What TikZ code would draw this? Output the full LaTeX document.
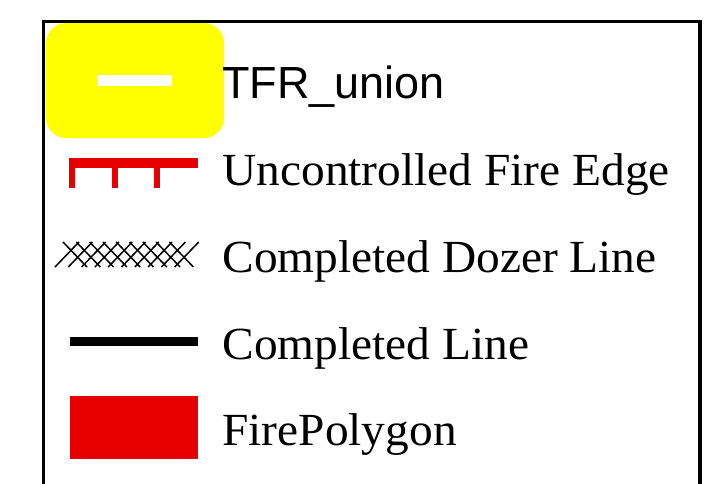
\documentclass[tikz,border=0pt]{standalone}
\usepackage{fontspec}
\setmainfont{Liberation Serif}
\newfontfamily\legendfont[FakeStretch=1.03]{Liberation Serif}
\newfontfamily\tfrfont{Liberation Sans}
\definecolor{firered}{HTML}{E60000}
\definecolor{tfryellow}{HTML}{FFFF00}
\tikzset{
    legendtext/.style={anchor=base west,inner sep=0pt,font=\legendfont\fontsize{23}{23}\selectfont},
    tfrtext/.style={anchor=base west,inner sep=0pt,font=\tfrfont\fontsize{22.5}{22.5}\selectfont}
}
\begin{document}
\begin{tikzpicture}[x=0.5pt,y=-0.5pt]
        \useasboundingbox (0,0) rectangle (724,483);
        \clip (0,0) rectangle (724,483);
        \draw[line width=1.75pt] (43.5,500) -- (43.5,21.5) -- (700,21.5) -- (700,500);
        % TFR_union
        \fill[tfryellow,rounded corners=10pt] (46,23) rectangle (224,138);
        \fill[white] (97,75) rectangle (172,86);
        \node[tfrtext] (tfr) at (222,98) {TFR\_union};
        % uncontrolled edge
        \fill[firered] (69,158) rectangle (198,168);
        \foreach \x in {69,112,154}
            \fill[firered] (\x,158) rectangle (\x+5.5,188);
        \node[legendtext] (edge) at (222,185) {Uncontrolled Fire Edge};
        % dozer line
        \foreach \i in {0,...,9}
            \draw[line width=0.75pt] (55+13.3*\i,267) -- (79+13.3*\i,242);
        \foreach \i in {0,...,8}
            \draw[line width=0.75pt] (63+13.3*\i,242) -- (87+13.3*\i,267);
        \node[legendtext] (dozer) at (222,272) {Completed Dozer Line};
        % completed line
        \fill (70,336.5) rectangle (198,345.5);
        \node[legendtext] (line) at (222,359) {Completed Line};
        % fire polygon
        \fill[firered] (70,396) rectangle (198,459);
        \node[legendtext] (poly) at (222,445) {FirePolygon};
    \end{tikzpicture}
\end{document}
